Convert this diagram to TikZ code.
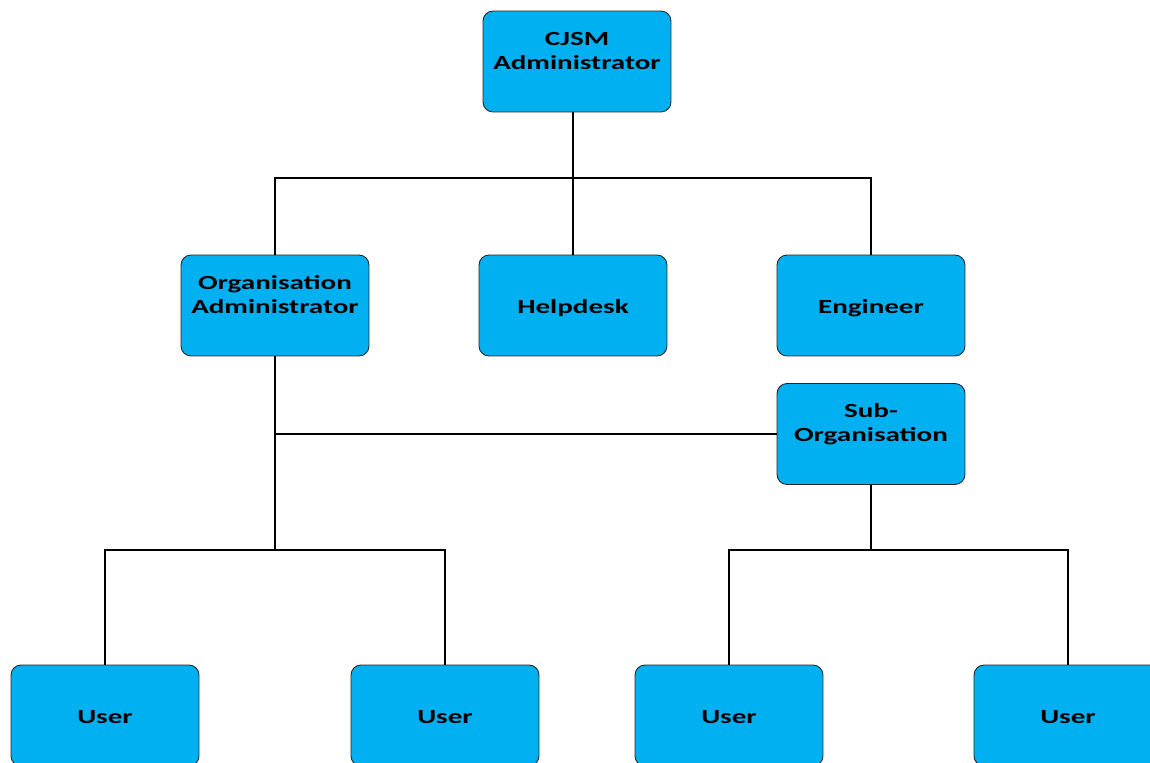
\documentclass[tikz,border=0pt]{standalone}
\usepackage{fontspec}
\setmainfont[FakeStretch=1.45]{Carlito}
\usetikzlibrary{positioning}
\definecolor{roleblue}{HTML}{00B0F0}
\newcommand{\toprule}{\rule{0pt}{13pt}}

\begin{document}
\begin{tikzpicture}[x=0.02cm,y=-0.02cm,
  role/.style={draw=black!85, fill=roleblue, rounded corners=0.2cm,
       line width=0.5pt, minimum width=3.76cm, minimum height=2.02cm,
       inner sep=0pt, align=center,
       font=\fontsize{11.4}{13.7}\selectfont\bfseries},
  oneline/.style={role, text height=11.6pt, text depth=2pt},
  link/.style={line width=1.1pt, black}]

\clip (0,0) rectangle (1150,763);

% top of the tree
\node[role] (cjsm) at (577,61.5) {\toprule CJSM\\Administrator\\\strut};

% second row
\node[role] (org)  at (275,305.5) {\toprule Organisation\\Administrator\\\strut};
\node[oneline] (help) at (573,305.5) {Helpdesk};
\node[oneline] (eng)  at (871,305.5) {Engineer};

\node[role] (sub)  at (871,434) {\toprule Sub-\\Organisation\\\strut};

% users
\node[oneline] (u1) at (105,715.5) {User};
\node[oneline] (u2) at (445,715.5) {User};
\node[oneline] (u3) at (729,715.5) {User};
\node[oneline] (u4) at (1068,715.5) {User};

\coordinate (topbus) at (573,178);
\coordinate (orgbus) at (275,550);
\coordinate (subbus) at (871,550);

\draw[link] (cjsm.south -| help) -- (help.north);
\draw[link] (org.north) |- (topbus) -| (eng.north);

\draw[link] (org.south) -- (orgbus);
\draw[link] (org.south |- sub.west) -- (sub.west);
\draw[link] (u1.north) |- (orgbus) -| (u2.north);

\draw[link] (sub.south) -- (subbus);
\draw[link] (u3.north) |- (subbus) -| (u4.north);
\end{tikzpicture}
\end{document}
